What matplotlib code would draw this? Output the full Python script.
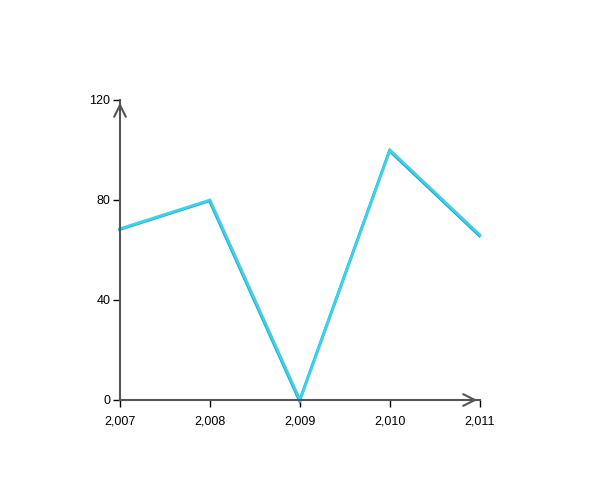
import numpy as np
import matplotlib
matplotlib.use('Agg')
from matplotlib import pyplot as plt
from matplotlib import transforms

years = [2007, 2008, 2009, 2010, 2011]
values = [68.5, 80, 0, 100, 66]
yticks = [0, 40, 80, 120]

plt.rcParams['font.family'] = ['Liberation Sans', 'DejaVu Sans']

fig = plt.figure(figsize=(6, 5), dpi=100)
ax = fig.add_axes([0.2, 0.2, 0.6, 0.6])

axis_col = '#555555'
# soft shadow under the line
shadow = transforms.offset_copy(ax.transData, fig=fig, x=-0.4, y=-0.6, units='points')
ax.plot(years, values, color='#4f8fa6', lw=2.0, transform=shadow, solid_joinstyle='miter', clip_on=False)
ax.plot(years, values, color='#33d6f0', lw=2.0, solid_joinstyle='miter', clip_on=False)

ax.set_xlim(2007, 2011)
ax.set_ylim(0, 120)
ax.set_xticks(years)
ax.set_xticklabels(['{:,}'.format(y) for y in years])
ax.set_yticks(yticks)

for s in ['top', 'right']:
    ax.spines[s].set_visible(False)
for s in ['left', 'bottom']:
    ax.spines[s].set_color(axis_col)
    ax.spines[s].set_linewidth(1.5)
ax.tick_params(colors='black', labelsize=9, length=5, width=1, direction='out', pad=6)
ax.tick_params(axis='y', pad=2)

# arrowheads at the axis ends
ax.annotate('', xy=(1, 0), xycoords='axes fraction', xytext=(0.97, 0),
            arrowprops=dict(arrowstyle='->,head_length=0.6,head_width=0.3',
                            color=axis_col, lw=1.5, mutation_scale=14))
ax.annotate('', xy=(0, 1), xycoords='axes fraction', xytext=(0, 0.96),
            arrowprops=dict(arrowstyle='->,head_length=0.6,head_width=0.3',
                            color=axis_col, lw=1.5, mutation_scale=14))

fig.savefig('out.png', dpi=100)
